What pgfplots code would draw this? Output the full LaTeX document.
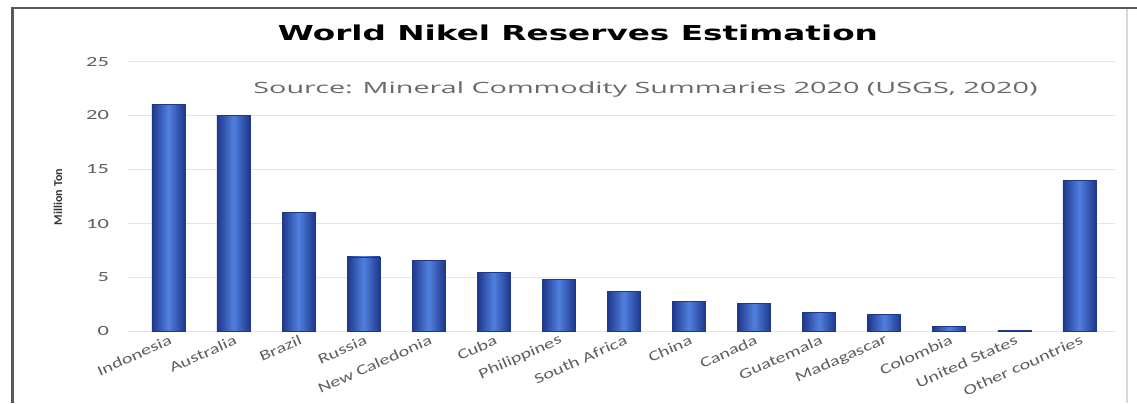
\documentclass[border=0pt]{standalone}
\usepackage{pgfplots}
\pgfplotsset{compat=1.18}
\usepackage{graphicx}
\usepackage{fontspec}
\setmainfont{Carlito}
\newfontfamily\titlefont{DejaVu Sans}
\newfontfamily\srcfont{Open Sans}
\definecolor{barmid}{RGB}{80,128,224}
\definecolor{baredge}{RGB}{30,55,138}
\definecolor{txtgray}{RGB}{95,95,95}
\definecolor{srcgray}{RGB}{105,105,105}
\definecolor{gridgray}{RGB}{228,228,228}
\newcommand{\xl}[1]{\scalebox{1.4}[1]{#1}}
\pgfplotsset{barstyle/.style={left color=baredge, right color=baredge, middle color=barmid, draw=baredge, line width=0.3pt, bar shift=0pt}}
\begin{document}
\begin{tikzpicture}
\useasboundingbox (0,0) rectangle (568.5pt,201.5pt);
\fill[white] (0,0) rectangle (568.5pt,201.5pt);
\draw[line width=1.2pt, black!65] (6.25pt,0) -- (6.25pt,197.5pt) -- (568.5pt,197.5pt);
\draw[line width=0.6pt, black!15] (563.5pt,0) -- (563.5pt,197pt);
\begin{axis}[
  at={(64pt,35.75pt)}, anchor=south west,
  scale only axis, width=493.6pt, height=135pt,
  xmin=-0.62, xmax=14.55, ymin=0, ymax=25,
  ytick={0,5,10,15,20,25},
  xtick={0,...,14},
  xticklabels={\xl{Indonesia},\xl{Australia},\xl{Brazil},\xl{Russia},\xl{New Caledonia},\xl{Cuba},\xl{Philippines},\xl{South Africa},\xl{China},\xl{Canada},\xl{Guatemala},\xl{Madagascar},\xl{Colombia},\xl{United States},\xl{Other countries}},
  axis line style={draw=none},
  major tick length=0pt,
  ymajorgrids, grid style={gridgray, line width=0.8pt},
  /pgf/number format/assume math mode=true,
  yticklabel={\scalebox{1.6}[1]{\pgfmathprintnumber{\tick}}},
  yticklabel style={font=\fontsize{7}{8}\selectfont, text=txtgray, xshift=-6pt},
  xticklabel style={font=\fontsize{7.2}{8}\selectfont, text=txtgray, rotate=24, anchor=east, xshift=3pt, yshift=-4pt},
  ybar, bar width=16.5pt, bar shift=0pt,
  clip=false,
]
\addplot[barstyle] coordinates {(0,21)};
\addplot[barstyle] coordinates {(1,20)};
\addplot[barstyle] coordinates {(2,11)};
\addplot[barstyle] coordinates {(3,6.9)};
\addplot[barstyle] coordinates {(4,6.6)};
\addplot[barstyle] coordinates {(5,5.5)};
\addplot[barstyle] coordinates {(6,4.8)};
\addplot[barstyle] coordinates {(7,3.7)};
\addplot[barstyle] coordinates {(8,2.8)};
\addplot[barstyle] coordinates {(9,2.6)};
\addplot[barstyle] coordinates {(10,1.8)};
\addplot[barstyle] coordinates {(11,1.6)};
\addplot[barstyle] coordinates {(12,0.44)};
\addplot[barstyle] coordinates {(13,0.1)};
\addplot[barstyle] coordinates {(14,14)};
\end{axis}
\node[anchor=base] at (289pt,181.5pt) {\resizebox{300pt}{7.8pt}{\titlefont\bfseries World Nikel Reserves Estimation}};
\node[anchor=base, text=srcgray] at (322.75pt,155pt) {\resizebox{392pt}{5.9pt}{\srcfont Source: Mineral Commodity Summaries 2020 (USGS, 2020)}};
\node[text=black!80] at (29pt,103pt) {\rotatebox{90}{\resizebox{28pt}{4.2pt}{\bfseries Million Ton}}};
\end{tikzpicture}
\end{document}
